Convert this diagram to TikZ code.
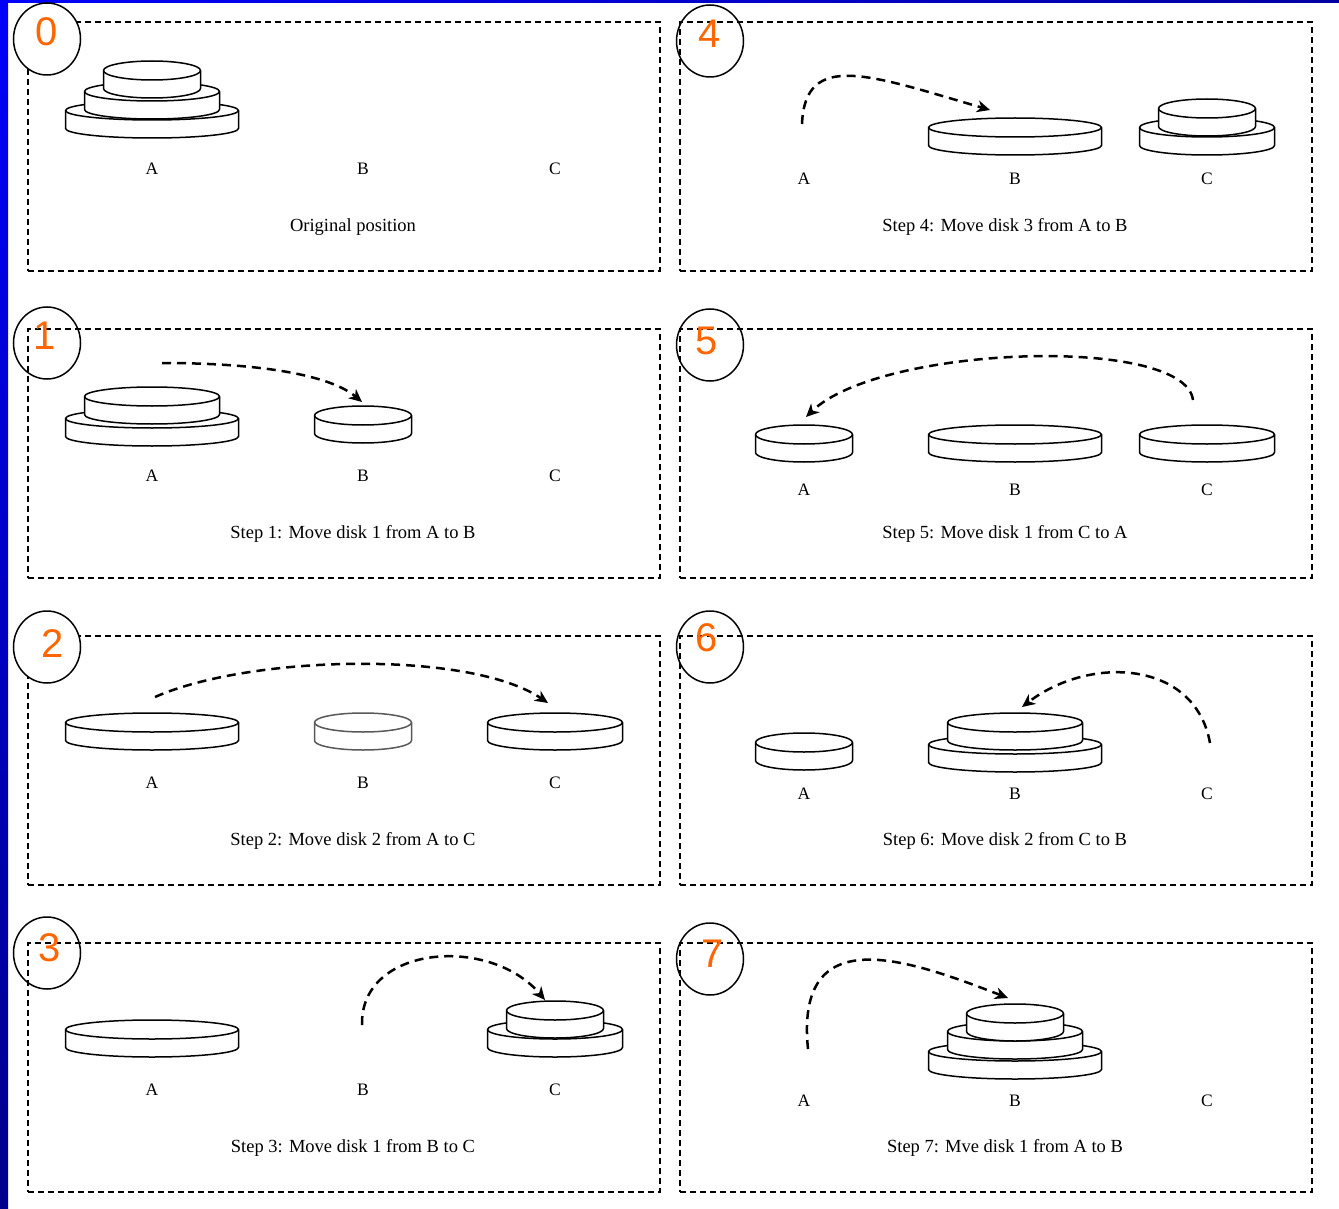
\documentclass[tikz,border=0pt]{standalone}
\usepackage{fontspec}
\setmainfont{Liberation Serif}
\newfontfamily\numfont{Liberation Sans}
\usepackage{xcolor}
\usepackage{tikz}
\usetikzlibrary{arrows.meta}
\usetikzlibrary{shapes.geometric}
\tikzset{>={Stealth[length=13pt,width=12pt,inset=4pt]}}
\definecolor{numorange}{RGB}{255,102,0}
\definecolor{edgeblue}{RGB}{0,0,250}
\definecolor{edgenavy}{RGB}{0,0,140}
\tikzset{
  panel/.style={draw,line width=1.5pt,dash pattern=on 6pt off 4pt,minimum width=632pt,minimum height=249pt,inner sep=0pt},
  numring/.style={draw,ellipse,line width=1.5pt,minimum width=67pt,minimum height=72pt,inner sep=0pt},
  numtext/.style={text=numorange,font=\numfont\fontsize{40}{40}\selectfont,inner sep=0pt},
  peglabel/.style={font=\fontsize{17.5}{17.5}\selectfont,inner sep=0pt},
  steptext/.style={font=\fontsize{18.5}{18.5}\selectfont,inner sep=0pt},
  move/.style={->,line width=2.5pt,dash pattern=on 9pt off 6pt},
}
% one disk: [colour]{centre x}{top y}{width}
\newcommand{\drawdisk}[4][black]{%
  \filldraw[draw=#1,fill=white,line width=1.5pt,line join=round] (#2-#4/2,#3-9.5) -- ++(0,-18)
    arc[start angle=180,end angle=360,x radius=#4/2,y radius=9.5] -- ++(0,18)
    arc[start angle=0,end angle=180,x radius=#4/2,y radius=9.5] -- cycle;
  \draw[draw=#1,line width=1.5pt] (#2-#4/2,#3-9.5)
    arc[start angle=180,end angle=360,x radius=#4/2,y radius=9.5];}

\begin{document}
\begin{tikzpicture}[x=1pt,y=1pt]
	\useasboundingbox (0,0) rectangle (1339,-1209);
	\fill[white] (0,0) rectangle (1339,-1209);
	\fill[top color=edgeblue,bottom color=edgenavy] (0,0) rectangle (8,-1209);
	\fill[left color=edgeblue,right color=edgenavy!80!edgeblue] (0,0) rectangle (1339,-3);

	% frames
	\node[panel] (pan0) at (344,-146.5) {};
	\node[panel] (pan1) at (344,-453.5) {};
	\node[panel] (pan2) at (344,-760.5) {};
	\node[panel] (pan3) at (344,-1067.5) {};
	\node[panel] (pan4) at (996,-146.5) {};
	\node[panel] (pan5) at (996,-453.5) {};
	\node[panel] (pan6) at (996,-760.5) {};
	\node[panel] (pan7) at (996,-1067.5) {};

	% step numbers
	\node[numring,fill=white] (ring0) at (47,-39) {};
	\node[numring] (ring1) at (47,-343) {};
	\node[numring,fill=white] (ring2) at (47,-647) {};
	\node[numring] (ring3) at (47,-953) {};
	\node[numring] (ring4) at (710,-41) {};
	\node[numring] (ring5) at (710,-345) {};
	\node[numring] (ring6) at (710,-647) {};
	\node[numring] (ring7) at (710,-959) {};
	\node[numtext] (num0) at (47,-32) {0};
	\node[numtext] (num1) at (45,-336) {1};
	\node[numtext] (num2) at (53,-644) {2};
	\node[numtext] (num3) at (50,-948) {3};
	\node[numtext] (num4) at (710,-34) {4};
	\node[numtext] (num5) at (707,-341) {5};
	\node[numtext] (num6) at (707,-638) {6};
	\node[numtext] (num7) at (713,-954) {7};

	% disks
	\drawdisk{152}{-101}{173} \drawdisk{152}{-82}{135} \drawdisk{152}{-61}{97}
	\drawdisk{152}{-409}{173} \drawdisk{152}{-387}{135} \drawdisk{363}{-406}{97}
	\drawdisk{152}{-713}{173} \drawdisk[black!65]{363}{-713}{97} \drawdisk{555}{-713}{135}
	\drawdisk{152}{-1020}{173} \drawdisk{555}{-1020}{135} \drawdisk{555}{-1001}{97}
	\drawdisk{1015}{-118}{173} \drawdisk{1207}{-118}{135} \drawdisk{1207}{-99}{97}
	\drawdisk{804}{-425}{97} \drawdisk{1015}{-425}{173} \drawdisk{1207}{-425}{135}
	\drawdisk{804}{-733}{97} \drawdisk{1015}{-735}{173} \drawdisk{1015}{-713}{135}
	\drawdisk{1015}{-1042}{173} \drawdisk{1015}{-1022}{135} \drawdisk{1015}{-1004}{97}

	% moves
	\coordinate (from1) at (162,-363);   \coordinate (to1) at (362,-402);
	\coordinate (from2) at (155,-697);   \coordinate (to2) at (548,-703);
	\coordinate (from3) at (362,-1025);  \coordinate (to3) at (545,-1000);
	\coordinate (from4) at (802,-124);   \coordinate (to4) at (990,-110);
	\coordinate (from5) at (1193,-400);  \coordinate (to5) at (806,-417);
	\coordinate (from6) at (1210,-743);  \coordinate (to6) at (1022,-707);
	\coordinate (from7) at (808,-1049);  \coordinate (to7) at (1008,-998);
	\draw[move] (from1) .. controls (260,-363) and (330,-375) .. (to1);
	\draw[move] (from2) .. controls (250,-655) and (470,-650) .. (to2);
	\draw[move] (from3) .. controls (360,-945) and (490,-935) .. (to3);
	\draw[move] (from4) .. controls (805,-50) and (870,-75) .. (to4);
	\draw[move] (from5) .. controls (1185,-335) and (880,-345) .. (to5);
	\draw[move] (from6) .. controls (1195,-660) and (1090,-655) .. (to6);
	\draw[move] (from7) .. controls (795,-920) and (905,-958) .. (to7);

	% peg names
	\node[peglabel] (a0) at (152,-169) {A}; \node[peglabel] (b0) at (363,-169) {B}; \node[peglabel] (c0) at (555,-169) {C};
	\node[peglabel] (a1) at (152,-476) {A}; \node[peglabel] (b1) at (363,-476) {B}; \node[peglabel] (c1) at (555,-476) {C};
	\node[peglabel] (a2) at (152,-783) {A}; \node[peglabel] (b2) at (363,-783) {B}; \node[peglabel] (c2) at (555,-783) {C};
	\node[peglabel] (a3) at (152,-1090) {A}; \node[peglabel] (b3) at (363,-1090) {B}; \node[peglabel] (c3) at (555,-1090) {C};
	\node[peglabel] (a4) at (804,-179) {A}; \node[peglabel] (b4) at (1015,-179) {B}; \node[peglabel] (c4) at (1207,-179) {C};
	\node[peglabel] (a5) at (804,-490) {A}; \node[peglabel] (b5) at (1015,-490) {B}; \node[peglabel] (c5) at (1207,-490) {C};
	\node[peglabel] (a6) at (804,-794) {A}; \node[peglabel] (b6) at (1015,-794) {B}; \node[peglabel] (c6) at (1207,-794) {C};
	\node[peglabel] (a7) at (804,-1101) {A}; \node[peglabel] (b7) at (1015,-1101) {B}; \node[peglabel] (c7) at (1207,-1101) {C};

	% step captions
	\node[steptext] (cap0) at (353,-227) {Original position};
	\node[steptext] (cap1) at (353,-534) {Step 1: Move disk 1 from A to B};
	\node[steptext] (cap2) at (353,-841) {Step 2: Move disk 2 from A to C};
	\node[steptext] (cap3) at (353,-1148) {Step 3: Move disk 1 from B to C};
	\node[steptext] (cap4) at (1005,-227) {Step 4: Move disk 3 from A to B};
	\node[steptext] (cap5) at (1005,-534) {Step 5: Move disk 1 from C to A};
	\node[steptext] (cap6) at (1005,-841) {Step 6: Move disk 2 from C to B};
	\node[steptext] (cap7) at (1005,-1148) {Step 7: Mve disk 1 from A to B};
\end{tikzpicture}
\end{document}
